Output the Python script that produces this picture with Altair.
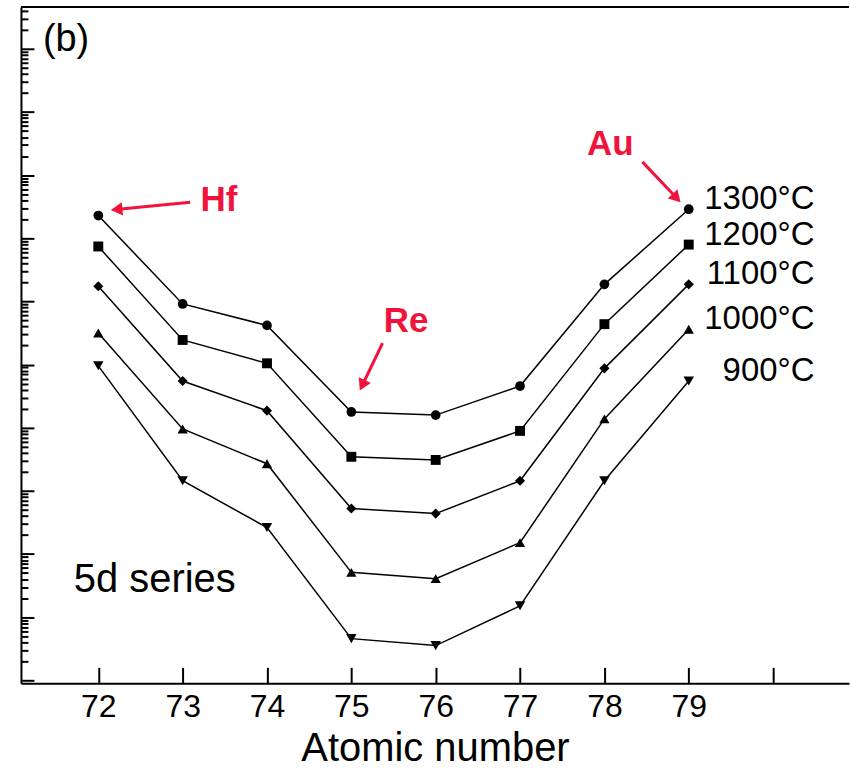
import math
import altair as alt
import pandas as pd

# ---------------- data (y in log10 units) ----------------
atomic = [72, 73, 74, 75, 76, 77, 78, 79]
temps = ["1300°C", "1200°C", "1100°C", "1000°C", "900°C"]
v1300 = [7.36, 5.96, 5.62, 4.25, 4.20, 4.66, 6.27, 7.46]
v1200 = [6.87, 5.39, 5.02, 3.54, 3.49, 3.95, 5.64, 6.90]
v1100 = [6.24, 4.74, 4.27, 2.72, 2.64, 3.16, 4.94, 6.27]
v1000 = [5.50, 3.98, 3.43, 1.71, 1.61, 2.18, 4.14, 5.56]
v900 = [4.98, 3.16, 2.42, 0.66, 0.55, 1.18, 3.16, 4.74]
x_ticks = [72, 73, 74, 75, 76, 77, 78, 79, 80]
x_labels = [72, 73, 74, 75, 76, 77, 78, 79]

# element annotations (text position and arrow tail/head, in data units)
ann_text = ["Hf", "Au", "Re"]
ann_tx = [73.43, 78.07, 75.65]
ann_ty = [7.61, 8.50, 5.69]
arr_x1 = [73.09, 78.45, 75.37]
arr_y1 = [7.57, 8.21, 5.34]
arr_x2 = [72.24, 78.84, 75.14]
arr_y2 = [7.46, 7.66, 4.70]

# ---------------- layout ----------------
W, H = 830, 678
XDOM = [71.083, 80.9]
YDOM = [-0.047, 10.664]
RED = "#f0143c"
FONT = "Liberation Sans"

series = [v1300, v1200, v1100, v1000, v900]
rows = []
for t, vals in zip(temps, series):
    for z, v in zip(atomic, vals):
        rows.append({"Z": z, "v": v, "T": t})
df = pd.DataFrame(rows)
last = df[df["Z"] == 79]

# y tick positions of a log axis (decade = 1 unit)
ytick_vals = []
for k in range(-1, 11):
    for m in range(1, 10):
        u = k + math.log10(m)
        if -0.03 <= u <= YDOM[1]:
            ytick_vals.append(round(u, 5))

xs = alt.Scale(domain=XDOM, nice=False, zero=False)
ys = alt.Scale(domain=YDOM, nice=False, zero=False)
shape_scale = alt.Scale(domain=temps,
                        range=["circle", "square", "diamond", "triangle-up", "triangle-down"])
size_scale = alt.Scale(domain=temps, range=[95, 110, 140, 130, 130])

x_bottom = alt.X("Z:Q", scale=xs, title="Atomic number",
                 axis=alt.Axis(orient="bottom", values=x_labels, ticks=False,
                               domain=True, domainWidth=2, domainColor="black",
                               labelFont=FONT, labelFontSize=32,
                               labelColor="black", labelPadding=8,
                               titleFont=FONT, titleFontSize=40,
                               titleFontWeight="normal", titleColor="black",
                               titlePadding=6, grid=False))
y_enc = alt.Y("v:Q", scale=ys, title=None,
              axis=alt.Axis(orient="right", offset=-W, values=ytick_vals,
                            labels=False, domain=True, domainWidth=2,
                            domainColor="black", tickColor="black", tickWidth=2,
                            tickSize={"condition": {"test": "abs(datum.value - round(datum.value)) < 0.001",
                                                    "value": 13}, "value": 7},
                            grid=False))

lines = alt.Chart(df).mark_line(color="black", strokeWidth=1.5).encode(
    x=x_bottom, y=y_enc, detail="T:N")

points = alt.Chart(df).mark_point(filled=True, color="black", opacity=1).encode(
    x=alt.X("Z:Q", scale=xs, axis=alt.Axis(orient="top", offset=-H, values=x_ticks,
                                            labels=False, domain=False, ticks=True,
                                            tickSize=16, tickWidth=2, tickColor="black",
                                            grid=False, title=None)),
    y=alt.Y("v:Q", scale=ys, axis=None),
    shape=alt.Shape("T:N", scale=shape_scale, legend=None),
    size=alt.Size("T:N", scale=size_scale, legend=None))

temp_labels = alt.Chart(last).mark_text(align="right", baseline="middle", dx=126, dy=-10,
                                       font=FONT, fontSize=33, color="black").encode(
    x=alt.X("Z:Q", scale=xs, axis=None), y=alt.Y("v:Q", scale=ys, axis=None), text="T:N")

ann_df = pd.DataFrame({"t": ann_text, "x": ann_tx, "y": ann_ty})
ann = alt.Chart(ann_df).mark_text(font=FONT, fontSize=35, fontWeight="bold",
                                  color=RED, align="center", baseline="middle").encode(
    x=alt.X("x:Q", scale=xs, axis=None), y=alt.Y("y:Q", scale=ys, axis=None), text="t:N")

arr_rows = []
head_rows = []
pxu = W / (XDOM[1] - XDOM[0])
pyu = H / (YDOM[1] - YDOM[0])
for i, name in enumerate(ann_text):
    arr_rows.append({"a": name, "x": arr_x1[i], "y": arr_y1[i], "o": 0})
    arr_rows.append({"a": name, "x": arr_x2[i], "y": arr_y2[i], "o": 1})
    dxp = (arr_x2[i] - arr_x1[i]) * pxu
    dyp = -(arr_y2[i] - arr_y1[i]) * pyu
    ang = math.degrees(math.atan2(dxp, -dyp)) % 360
    head_rows.append({"a": name, "x": arr_x2[i], "y": arr_y2[i], "ang": ang})
arr_df = pd.DataFrame(arr_rows)
head_df = pd.DataFrame(head_rows)

arrows = alt.Chart(arr_df).mark_line(color=RED, strokeWidth=3).encode(
    x=alt.X("x:Q", scale=xs, axis=None), y=alt.Y("y:Q", scale=ys, axis=None),
    detail="a:N", order="o:Q")
heads = alt.Chart(head_df).mark_point(shape="triangle", filled=True, color=RED,
                                      size=180, opacity=1).encode(
    x=alt.X("x:Q", scale=xs, axis=None), y=alt.Y("y:Q", scale=ys, axis=None),
    angle=alt.Angle("ang:Q", scale=None))

frame_df = pd.DataFrame({"k": [0]})
top_line = alt.Chart(frame_df).mark_rule(color="black", strokeWidth=2).encode(
    x=alt.value(0), x2=alt.value(W), y=alt.value(0))

panel_df = pd.DataFrame({"t": ["(b)", "5d series"]})
panel_b = alt.Chart(panel_df).transform_filter("datum.t == '(b)'").mark_text(
    align="left", baseline="middle", font=FONT, fontSize=38, color="black").encode(
    x=alt.value(22), y=alt.value(33), text="t:N")
panel_5d = alt.Chart(panel_df).transform_filter("datum.t == '5d series'").mark_text(
    align="left", baseline="middle", font=FONT, fontSize=40, color="black").encode(
    x=alt.value(53), y=alt.value(574), text="t:N")

chart = alt.layer(lines, points, temp_labels, arrows, heads, ann, top_line, panel_b, panel_5d).resolve_axis(
    x="independent", y="independent"
).properties(
    width=W, height=H,
    padding={"left": 20, "top": 5, "right": 0, "bottom": 0},
    background="white",
).configure_view(stroke=None)

chart.save("out.html", embed_options={"renderer": "svg", "actions": False})
